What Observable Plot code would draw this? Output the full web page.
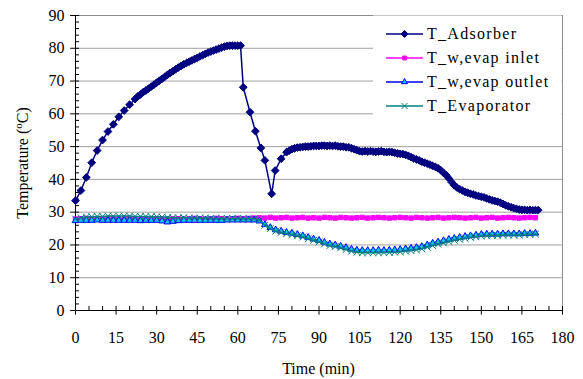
<!DOCTYPE html>
<html><head><meta charset="utf-8">
<script src="https://cdn.jsdelivr.net/npm/d3@7"></script>
<script src="https://cdn.jsdelivr.net/npm/@observablehq/plot@0.6"></script>
<style>
body{margin:0;background:#fff;font-family:'Liberation Serif',serif}
#wrap{position:relative;width:583px;height:379px}
#chart svg{display:block}
#overlay{position:absolute;left:0;top:0;pointer-events:none}
</style>
</head><body>
<div id="wrap"><div id="chart"></div>
<svg id="overlay" width="583" height="379">
  <text transform="translate(28,163) rotate(-90)" text-anchor="middle" font-family="Liberation Serif" font-size="16" fill="#000">Temperature (<tspan dy="-6" font-size="11">o</tspan><tspan dy="6">C)</tspan></text>
  <text x="318.5" y="374" text-anchor="middle" font-family="Liberation Serif" font-size="16" fill="#000">Time (min)</text>
  <g id="legend"></g>
</svg></div>
<script>
// ---- data ----
const seriesNames = ["T_Adsorber", "T_w,evap inlet", "T_w,evap outlet", "T_Evaporator"];
const xTicks = [0,15,30,45,60,75,90,105,120,135,150,165,180];
const yTicks = [0,10,20,30,40,50,60,70,80,90];

const adsTime = [0,2,4,6,8,10,12,14,16,18,20,22,
 23,24,25,26,27,28,29,30,31,32,33,34,35,36,37,38,39,40,41,42,43,44,45,46,47,48,49,50,51,52,53,54,55,56,57,58,59,60,61,
 62,64.5,66.5,68.5,70,72.5,73.8,76,78,
 79,80,81,82,83,84,85,86,87,88,89,90,91,92,93,94,95,96,97,98,99,100,101,102,103,104,105,106,107,108,109,110,
 111,112,113,114,115,116,117,118,119,120,121,122,123,124,125,126,127,128,129,130,131,132,133,134,135,136,137,138,139,140,
 141,142,143,144,145,146,147,148,149,150,151,152,153,154,155,156,157,158,159,160,161,162,163,164,165,166,167,168,169,170,171];
const adsTemp = [33.5,36.6,40.6,45.1,48.8,52.0,54.6,56.8,59.1,61.0,62.8,64.5,
 65.3,65.9,66.6,67.1,67.7,68.3,68.9,69.5,70.1,70.7,71.3,71.9,72.5,73.0,73.6,74.1,74.6,75.1,75.5,75.9,76.3,76.7,77.1,77.5,77.9,78.3,78.7,79.0,79.3,79.6,79.9,80.2,80.5,80.7,80.8,80.8,80.8,80.8,80.8,
 68.1,60.5,54.7,49.6,45.8,35.6,42.7,46.3,48.3,
 48.8,49.2,49.5,49.7,49.8,49.9,50.0,50.0,50.1,50.2,50.2,50.2,50.3,50.3,50.2,50.3,50.2,50.3,50.1,50.0,50.0,49.8,49.8,49.5,49.2,48.9,48.6,48.5,48.6,48.5,48.6,48.5,
 48.4,48.5,48.6,48.4,48.3,48.4,48.3,48.1,47.9,47.8,47.7,47.5,47.2,46.8,46.4,46.1,45.8,45.4,45.1,44.8,44.5,44.1,43.8,43.4,42.8,42.0,41.3,40.3,39.2,38.2,
 37.5,37.0,36.6,36.2,35.9,35.6,35.4,35.1,34.9,34.7,34.5,34.2,33.9,33.6,33.4,33.2,32.9,32.5,32.1,31.8,31.5,31.2,31.0,30.8,30.7,30.7,30.6,30.7,30.6,30.6,30.6];

const lowTime = [0,2,4,6,8,10,12,14,16,18,20,22,24,26,28,30,32,34,36,38,40,42,44,46,48,50,52,54,56,58,60,62,64,66,
 68,70,72,74,76,78,80,82,84,86,88,90,92,94,96,98,100,102,104,106,108,110,112,114,116,118,120,
 122,124,126,128,130,132,134,136,138,140,142,144,146,148,150,152,154,156,158,160,162,164,166,168,170];
const inletTemp = [27.9,28.0,28.1,28.0,27.9,28.0,28.1,28.0,27.9,28.0,28.1,28.0,27.9,28.0,28.1,28.0,27.9,28.0,28.0,28.0,27.9,28.0,28.1,28.0,27.9,28.0,28.1,28.0,27.9,28.0,28.1,28.0,28.1,28.2,
 28.3,28.2,28.4,28.2,28.3,28.4,28.2,28.3,28.4,28.2,28.3,28.2,28.4,28.3,28.2,28.4,28.3,28.2,28.3,28.4,28.2,28.3,28.4,28.3,28.2,28.3,28.4,
 28.3,28.2,28.4,28.3,28.2,28.3,28.4,28.2,28.3,28.4,28.3,28.2,28.3,28.4,28.2,28.3,28.4,28.2,28.3,28.4,28.3,28.2,28.3,28.4,28.3];
const outletTemp = [27.4,27.5,27.5,27.5,27.6,27.5,27.5,27.5,27.5,27.5,27.5,27.5,27.4,27.5,27.5,27.5,27.3,27.0,27.2,27.4,27.5,27.5,27.5,27.5,27.5,27.5,27.5,27.5,27.6,27.6,27.6,27.6,27.6,27.6,
 27.3,26.2,25.3,24.6,24.2,23.8,23.6,23.2,22.8,22.3,21.8,21.4,20.8,20.3,20.0,19.6,19.2,18.7,18.4,18.3,18.3,18.3,18.4,18.3,18.4,18.5,18.6,
 18.8,19.0,19.2,19.5,20.0,20.5,20.9,21.3,21.7,22.0,22.3,22.6,22.8,23.0,23.2,23.3,23.3,23.3,23.4,23.4,23.4,23.4,23.5,23.5,23.6];
const evapTemp = [27.9,28.2,28.5,28.6,28.7,28.7,28.8,28.8,28.8,28.8,28.8,28.7,28.7,28.7,28.6,28.6,28.5,28.4,28.3,28.3,28.3,28.2,28.2,28.2,28.2,28.1,28.1,28.1,28.1,28.1,28.1,28.0,28.0,28.0,
 27.6,26.0,25.0,24.2,23.8,23.4,23.1,22.8,22.4,21.9,21.4,20.9,20.3,19.8,19.5,19.1,18.6,18.1,17.8,17.6,17.6,17.6,17.6,17.7,17.7,17.8,17.9,
 18.1,18.3,18.5,18.8,19.3,19.8,20.2,20.6,21.0,21.4,21.7,22.0,22.3,22.5,22.7,22.8,22.9,22.9,23.0,23.0,23.0,23.0,23.1,23.2,23.3];

// ---- build ----
const FONT = "Liberation Serif";
const adsRows = adsTime.map((t, i) => ({t, v: adsTemp[i]}));
const inRows = lowTime.map((t, i) => ({t, v: inletTemp[i]}));
const outRows = lowTime.map((t, i) => ({t, v: outletTemp[i]}));
const evRows = lowTime.map((t, i) => ({t, v: evapTemp[i]}));
const minorX = d3.range(0, 181, 5).filter(v => v % 15 !== 0);
const minorY = d3.range(0, 91, 2).filter(v => v % 10 !== 0);

const styles = [
  {line: "#000080", symbol: "diamond2", fill: "#000080", stroke: "#000080", r: 3.5},
  {line: "#ff00ff", symbol: "square2", fill: "#ff00ff", stroke: "#ff00ff", r: 2.8},
  {line: "#0000ff", symbol: "triangle2", fill: "#00c8f0", stroke: "#0000ff", r: 3.2},
  {line: "#008080", symbol: "times", fill: "none", stroke: "#008080", r: 3.2}
];
const rowsets = [adsRows, inRows, outRows, evRows];

const marks = [
  Plot.gridY(yTicks.filter(v => v > 0 && v < 90), {stroke: "#a0a0a0", strokeOpacity: 1}),
  Plot.ruleY([90], {stroke: "#8c8c8c"}),
  Plot.ruleX([180], {stroke: "#8c8c8c"}),
  Plot.ruleY([0], {stroke: "#000"}),
  Plot.ruleX([0], {stroke: "#000"}),
  Plot.ruleX(minorX, {y1: 0, y2: 1.25, stroke: "#000"}),
  Plot.ruleX(xTicks, {y1: -1.4, y2: 1.25, stroke: "#000"}),
  Plot.ruleY(minorY, {x1: 0, x2: 1.5, stroke: "#000"}),
  Plot.ruleY(yTicks, {x1: -1.8, x2: 1.5, stroke: "#000"}),
  Plot.axisX({ticks: xTicks, tickSize: 0, tickPadding: 21, fontSize: 16, fontFamily: FONT, fill: "#000", label: null, tickFormat: d => String(d)}),
  Plot.axisY({ticks: yTicks, tickSize: 0, tickPadding: 11, fontSize: 16, fontFamily: FONT, fill: "#000", label: null, tickFormat: d => String(d)})
];
rowsets.forEach((rows, i) => {
  const s = styles[i];
  marks.push(Plot.line(rows, {x: "t", y: "v", stroke: s.line, strokeWidth: 1.5}));
  marks.push(Plot.dot(rows, {x: "t", y: "v", symbol: () => s.symbol, r: s.r, fill: s.fill, stroke: s.stroke, strokeWidth: 1}));
});

const chart = Plot.plot({
  width: 583, height: 379,
  marginLeft: 75, marginRight: 21, marginTop: 15, marginBottom: 69,
  x: {domain: [0, 180]},
  y: {domain: [0, 90]},
  style: "background:#fff;font-family:'Liberation Serif',serif;font-size:16px",
  marks
});
document.getElementById("chart").appendChild(chart);

// legend (inside plot, top right)
const lg = d3.select("#legend");
lg.append("rect").attr("x", 373).attr("y", 15.5).attr("width", 188.5).attr("height", 106).attr("fill", "#fff");
const symMap = {diamond2: d3.symbolDiamond2, square2: d3.symbolSquare2, triangle2: d3.symbolTriangle2, times: d3.symbolTimes};
seriesNames.forEach((name, i) => {
  const s = styles[i];
  const y = 34 + i * 24;
  lg.append("line").attr("x1", 386).attr("x2", 423).attr("y1", y).attr("y2", y).attr("stroke", s.line).attr("stroke-width", 1.5);
  lg.append("path").attr("transform", `translate(404.5,${y})`)
    .attr("d", d3.symbol(symMap[s.symbol], Math.PI * s.r * s.r * 0.8)())
    .attr("fill", s.fill).attr("stroke", s.stroke).attr("stroke-width", 1);
  lg.append("text").attr("x", 427).attr("y", y).attr("dy", "0.34em")
    .attr("text-anchor", "start")
    .attr("font-family", "Liberation Serif").attr("font-size", 16).attr("letter-spacing", 1.3).attr("fill", "#000").text(name);
});
</script>
</body></html>
